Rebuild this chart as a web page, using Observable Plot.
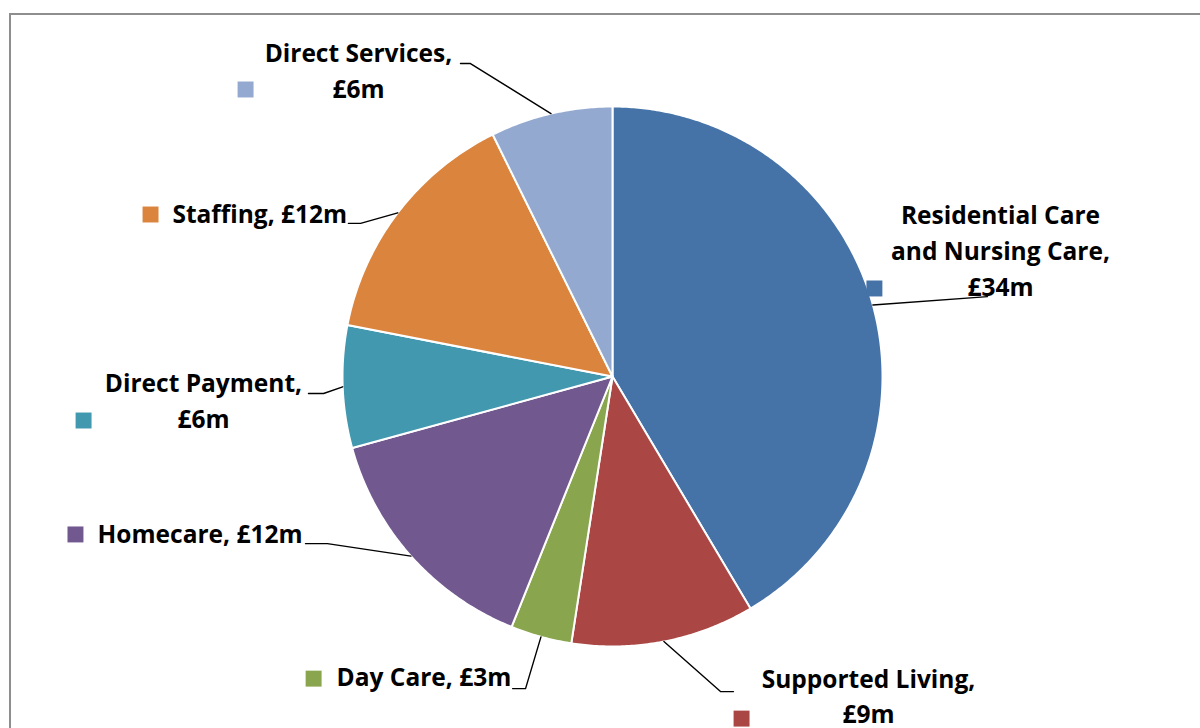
<!DOCTYPE html>
<html>
<head>
<meta charset="utf-8">
<script src="https://cdn.jsdelivr.net/npm/d3@7"></script>
<script src="https://cdn.jsdelivr.net/npm/@observablehq/plot@0.6"></script>
<style>
  html, body { margin: 0; padding: 0; background: #fff; overflow: hidden; }
  #wrap { position: relative; width: 1200px; height: 728px; }
  #border { position: absolute; left: 9px; top: 13px; width: 1400px; height: 900px; border: 2px solid #8e8e8e; }
  #chart { position: absolute; left: 0; top: 0; }
</style>
</head>
<body>
<div id="wrap"><div id="border"></div><div id="chart"></div></div>
<script>
// ---- data ----
const categories = ["Residential Care and Nursing Care", "Supported Living", "Day Care", "Homecare", "Direct Payment", "Staffing", "Direct Services"];
const values = [34, 9, 3, 12, 6, 12, 6]; // £m
const labelTexts = ["Residential Care\nand Nursing Care,\n£34m", "Supported Living,\n£9m", "Day Care, £3m", "Homecare, £12m", "Direct Payment,\n£6m", "Staffing, £12m", "Direct Services,\n£6m"];

// ---- style ----
const colors = ["#4572A7", "#AA4643", "#89A54E", "#71588F", "#4198AF", "#DB843D", "#93A9CF"];

// ---- layout (unit-radius coordinates, y up) ----
const labelAnchor = ["middle", "middle", "start", "start", "middle", "start", "middle"];
const labelX = [1.437, 0.948, -1.022, -1.907, -1.515, -1.630, -0.941];
const labelY = [0.300, -1.285, -1.148, -0.615, -0.189, 0.570, 1.033];
const keyX = [0.970, 0.478, -1.107, -1.989, -1.959, -1.711, -1.359];
const keyY = [0.326, -1.267, -1.119, -0.585, -0.163, 0.600, 1.063];
const leaderPts = [
  [[1.389, 0.296]],
  [[0.400, -1.167], [0.448, -1.167]],
  [[-0.322, -1.156], [-0.370, -1.156]],
  [[-1.056, -0.619], [-1.137, -0.619]],
  [[-1.070, -0.063], [-1.126, -0.063]],
  [[-0.933, 0.567], [-0.978, 0.567]],
  [[-0.526, 1.159], [-0.563, 1.159]]
];

// ---- derived geometry from values ----
const total = d3.sum(values);
const slicePts = [];
const leaders = [];
let acc = 0;
categories.forEach((c, i) => {
  const a0 = acc / total * 2 * Math.PI;
  acc += values[i];
  const a1 = acc / total * 2 * Math.PI;
  slicePts.push({cat: c, x: 0, y: 0});
  const n = Math.max(2, Math.ceil((a1 - a0) / (Math.PI / 360)));
  for (let k = 0; k <= n; k++) {
    const a = a0 + (a1 - a0) * k / n;
    slicePts.push({cat: c, x: Math.sin(a), y: Math.cos(a)});
  }
  slicePts.push({cat: c, x: 0, y: 0});
  const am = (a0 + a1) / 2;
  leaders.push({cat: c, x: Math.sin(am), y: Math.cos(am)});
  leaderPts[i].forEach(([x, y]) => leaders.push({cat: c, x, y}));
});

const labels = categories.map((c, i) => ({cat: c, text: labelTexts[i], anchor: labelAnchor[i], x: labelX[i], y: labelY[i], kx: keyX[i], ky: keyY[i]}));

const font = "'Open Sans', sans-serif";
const fs = 24.5;
const textOpts = {x: "x", y: "y", text: "text", lineAnchor: "bottom", fontSize: fs, fontWeight: "bold", fontFamily: font, lineHeight: 1.45, fill: "#000"};

const chart = Plot.plot({
  width: 1200,
  height: 728,
  margin: 0,
  x: {domain: [-1, 1], range: [342, 882], axis: null},
  y: {domain: [-1, 1], range: [646, 106], axis: null},
  color: {domain: categories, range: colors},
  style: {background: "transparent", overflow: "visible"},
  marks: [
    Plot.line(slicePts, {x: "x", y: "y", z: "cat", fill: "cat", stroke: "#fff", strokeWidth: 2, strokeLinejoin: "round", curve: "linear"}),
    Plot.line(leaders, {x: "x", y: "y", z: "cat", stroke: "#000", strokeWidth: 1.4, curve: "linear"}),
    Plot.dot(labels, {x: "kx", y: "ky", fill: "cat", symbol: "square", r: 9, stroke: null}),
    Plot.text(labels.filter(d => d.anchor === "middle"), {...textOpts, textAnchor: "middle"}),
    Plot.text(labels.filter(d => d.anchor === "start"), {...textOpts, textAnchor: "start"})
  ]
});
document.getElementById("chart").appendChild(chart);
</script>
</body>
</html>
